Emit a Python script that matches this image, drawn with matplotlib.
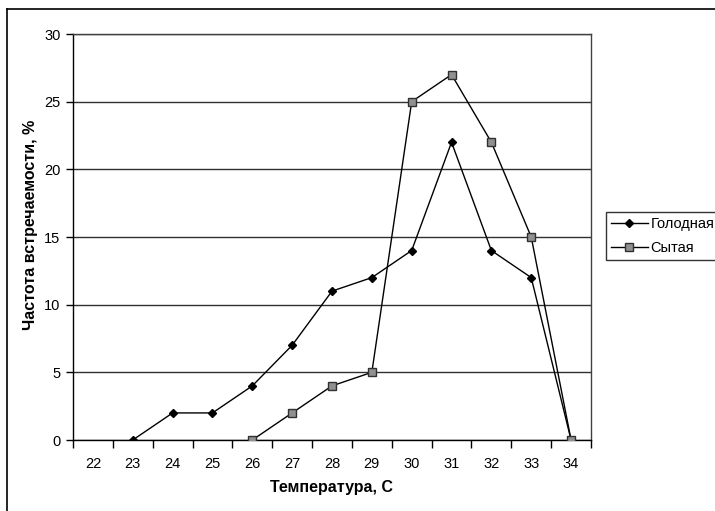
import matplotlib.pyplot as plt
from matplotlib.lines import Line2D

plt.rcParams['font.family'] = ['Liberation Sans', 'DejaVu Sans']

# temperature categories and frequency of occurrence, %
temps = [22, 23, 24, 25, 26, 27, 28, 29, 30, 31, 32, 33, 34]
hungry_x = [23, 24, 25, 26, 27, 28, 29, 30, 31, 32, 33, 34]
hungry_y = [0, 2, 2, 4, 7, 11, 12, 14, 22, 14, 12, 0]
fed_x = [26, 27, 28, 29, 30, 31, 32, 33, 34]
fed_y = [0, 2, 4, 5, 25, 27, 22, 15, 0]

W, H = 715, 511
fig = plt.figure(figsize=(W / 100, H / 100), dpi=100)
ax = fig.add_axes([73 / W, (H - 440) / H, 518 / W, 406 / H])

pos = {t: i for i, t in enumerate(temps)}
hx = [pos[t] for t in hungry_x]
fx = [pos[t] for t in fed_x]

ax.plot(hx, hungry_y, color='black', lw=1, marker='D', ms=4.2,
        mfc='black', mec='black', label='Голодная', zorder=3)
ax.plot(fx, fed_y, color='black', lw=1, marker='s', ms=5.5,
        mfc='#909090', mec='#303030', mew=1, label='Сытая', zorder=4)

ax.set_xlim(-0.5, len(temps) - 0.5)
ax.set_ylim(0, 30)
ax.set_yticks(range(0, 31, 5))
ax.set_xticks([i - 0.5 for i in range(len(temps) + 1)])
ax.set_xticklabels([])
ax.set_xticks(range(len(temps)), minor=True)
ax.set_xticklabels([str(t) for t in temps], minor=True)
ax.tick_params(axis='x', which='major', length=6, width=1, direction='out')
ax.tick_params(axis='x', which='minor', length=0, pad=12, labelsize=10.5)
ax.tick_params(axis='y', length=5, width=1, direction='out', labelsize=10.5, pad=4)

ax.grid(axis='y', color='#303030', lw=1)
ax.set_axisbelow(True)
for s in ['top', 'right']:
    ax.spines[s].set_color('#404040')
    ax.spines[s].set_linewidth(1)
for s in ['left', 'bottom']:
    ax.spines[s].set_color('black')
    ax.spines[s].set_linewidth(1)

ax.set_xlabel('Температура, С', fontsize=11.5, fontweight='bold')
ax.set_ylabel('Частота встречаемости, %', fontsize=11.5, fontweight='bold')
ax.xaxis.set_label_coords(0.5, -0.118)
ax.xaxis.label.set_verticalalignment('center')
ax.yaxis.set_label_coords(-0.083, 0.53)
ax.yaxis.label.set_verticalalignment('center')

leg = fig.legend(loc='upper left', bbox_to_anchor=(606 / W, 1 - 212 / H),
                 frameon=True, fancybox=False, edgecolor='black', fontsize=10.5,
                 handlelength=2.5, handletextpad=0.2, borderpad=0.35,
                 labelspacing=0.7, borderaxespad=0)
leg.get_frame().set_linewidth(1)

# outer chart frame
fig.add_artist(Line2D([7 / W, 7 / W], [1 - 9 / H, 0], transform=fig.transFigure,
                      color='black', lw=1.2))
fig.add_artist(Line2D([7 / W, 1], [1 - 9 / H, 1 - 9 / H], transform=fig.transFigure,
                      color='black', lw=1.2))

fig.savefig('out.png', dpi=100)
